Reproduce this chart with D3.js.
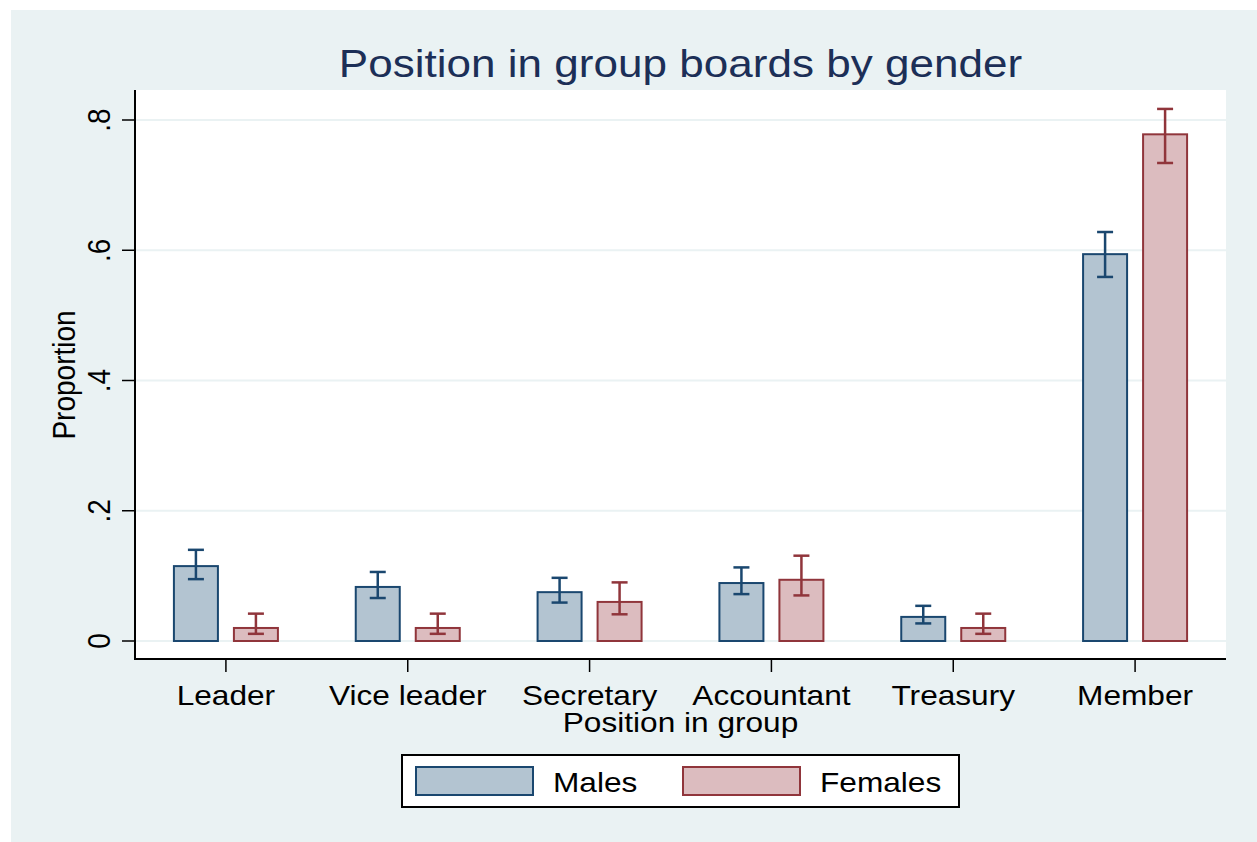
<!DOCTYPE html>
<html>
<head>
<meta charset="utf-8">
<script src="https://cdn.jsdelivr.net/npm/d3@7"></script>
<style>
  body { margin: 0; background: #fff; }
  text { font-family: "Liberation Sans", Arial, sans-serif; }
</style>
</head>
<body>
<svg id="chart" width="1257" height="842"></svg>
<script>
// data
const categories = ["Leader", "Vice leader", "Secretary", "Accountant", "Treasury", "Member"]
const genders = ["Males", "Females"]
const males     = [0.115, 0.083, 0.075, 0.089, 0.037, 0.594]
const malesLo   = [0.095, 0.066, 0.059, 0.072, 0.027, 0.559]
const malesHi   = [0.140, 0.106, 0.097, 0.113, 0.054, 0.628]
const females   = [0.020, 0.020, 0.060, 0.094, 0.020, 0.778]
const femalesLo = [0.011, 0.011, 0.041, 0.070, 0.011, 0.734]
const femalesHi = [0.042, 0.042, 0.090, 0.131, 0.042, 0.817]
const yTicks = [0, 0.2, 0.4, 0.6, 0.8]
const yTickLabels = ["0", ".2", ".4", ".6", ".8"]

const fills = {Males: "#b3c4d1", Females: "#dcbcbf"}
const strokes = {Males: "#1a476f", Females: "#90353b"}
const sx = 1.13  // the reference is stretched sideways a bit

const svg = d3.select("#chart")

// outer background
svg.append("rect").attr("x", 11).attr("y", 10).attr("width", 1246).attr("height", 832).attr("fill", "#eaf2f3")

const plot = {left: 135, right: 1226, top: 90, bottom: 659}
svg.append("rect")
    .attr("x", plot.left).attr("y", plot.top)
    .attr("width", plot.right - plot.left).attr("height", plot.bottom - plot.top)
    .attr("fill", "#fff")

const x = d3.scaleBand().domain(categories).range([plot.left, plot.right])
const x1 = d3.scaleBand().domain(genders).range([-52, 52]).paddingInner(16 / 60)
const y = d3.scaleLinear().domain([0, 0.8]).range([641, 120])

// gridlines
svg.append("g").selectAll("line")
    .data(yTicks)
    .join("line")
    .attr("x1", plot.left).attr("x2", plot.right)
    .attr("y1", d => y(d)).attr("y2", d => y(d))
    .attr("stroke", "#eaf2f3").attr("stroke-width", 2)

// rows per bar
let rows = []
categories.forEach((c, i) => {
    rows.push({cat: c, g: "Males", v: males[i], lo: malesLo[i], hi: malesHi[i]})
    rows.push({cat: c, g: "Females", v: females[i], lo: femalesLo[i], hi: femalesHi[i]})
})
const cx = d => x(d.cat) + x.bandwidth() / 2 + x1(d.g) + x1.bandwidth() / 2

svg.append("g").selectAll("rect")
    .data(rows)
    .join("rect")
    .attr("x", d => x(d.cat) + x.bandwidth() / 2 + x1(d.g))
    .attr("y", d => y(d.v))
    .attr("width", x1.bandwidth())
    .attr("height", d => y(0) - y(d.v))
    .attr("fill", d => fills[d.g])
    .attr("stroke", d => strokes[d.g])
    .attr("stroke-width", 2)

// error bars
const eb = svg.append("g").selectAll("g")
    .data(rows)
    .join("g")
    .attr("stroke", d => strokes[d.g])
    .attr("stroke-width", 2.5)
eb.append("line")
    .attr("x1", cx).attr("x2", cx)
    .attr("y1", d => y(d.lo)).attr("y2", d => y(d.hi))
eb.append("line")
    .attr("x1", d => cx(d) - 8).attr("x2", d => cx(d) + 8)
    .attr("y1", d => y(d.lo)).attr("y2", d => y(d.lo))
eb.append("line")
    .attr("x1", d => cx(d) - 8).attr("x2", d => cx(d) + 8)
    .attr("y1", d => y(d.hi)).attr("y2", d => y(d.hi))

// axes lines
svg.append("line").attr("x1", plot.left).attr("x2", plot.left)
    .attr("y1", plot.top).attr("y2", plot.bottom)
    .attr("stroke", "#000").attr("stroke-width", 2)
svg.append("line").attr("x1", plot.left - 1).attr("x2", plot.right)
    .attr("y1", plot.bottom).attr("y2", plot.bottom)
    .attr("stroke", "#000").attr("stroke-width", 2)

// y ticks + rotated labels
svg.append("g").selectAll("line")
    .data(yTicks)
    .join("line")
    .attr("x1", plot.left - 13).attr("x2", plot.left)
    .attr("y1", d => y(d)).attr("y2", d => y(d))
    .attr("stroke", "#000").attr("stroke-width", 1.5)
svg.append("g").selectAll("text")
    .data(yTicks)
    .join("text")
    .attr("transform", d => `translate(110,${y(d)}) scale(${sx},1) rotate(-90)`)
    .attr("text-anchor", "middle")
    .attr("font-size", 28)
    .attr("fill", "#000")
    .text((d, i) => yTickLabels[i])

svg.append("text")
    .attr("transform", `translate(75,375) scale(${sx},1) rotate(-90)`)
    .attr("text-anchor", "middle")
    .attr("font-size", 28)
    .text("Proportion")

// x ticks + labels
svg.append("g").selectAll("line")
    .data(categories)
    .join("line")
    .attr("x1", d => x(d) + x.bandwidth() / 2).attr("x2", d => x(d) + x.bandwidth() / 2)
    .attr("y1", plot.bottom).attr("y2", plot.bottom + 13)
    .attr("stroke", "#000").attr("stroke-width", 1.5)
svg.append("g").selectAll("text")
    .data(categories)
    .join("text")
    .attr("transform", d => `translate(${x(d) + x.bandwidth() / 2},705) scale(${sx},1)`)
    .attr("text-anchor", "middle")
    .attr("font-size", 28)
    .text(d => d)

svg.append("text")
    .attr("transform", `translate(${(plot.left + plot.right) / 2},732) scale(${sx},1)`)
    .attr("text-anchor", "middle")
    .attr("font-size", 28)
    .text("Position in group")

// title
svg.append("text")
    .attr("transform", `translate(${(plot.left + plot.right) / 2},77) scale(${sx},1)`)
    .attr("text-anchor", "middle")
    .attr("font-size", 39)
    .attr("fill", "#1c2f57")
    .text("Position in group boards by gender")

// legend
const legend = svg.append("g")
legend.append("rect")
    .attr("x", 402).attr("y", 755).attr("width", 557).attr("height", 52)
    .attr("fill", "#fff").attr("stroke", "#000").attr("stroke-width", 2)
const items = legend.selectAll("g.item")
    .data(genders)
    .join("g")
    .attr("class", "item")
    .attr("transform", (d, i) => `translate(${416 + i * 267},767)`)
items.append("rect")
    .attr("width", 117).attr("height", 28)
    .attr("fill", d => fills[d]).attr("stroke", d => strokes[d]).attr("stroke-width", 2)
items.append("text")
    .attr("transform", `translate(137,25) scale(${sx},1)`)
    .attr("font-size", 28)
    .text(d => d)
</script>
</body>
</html>
